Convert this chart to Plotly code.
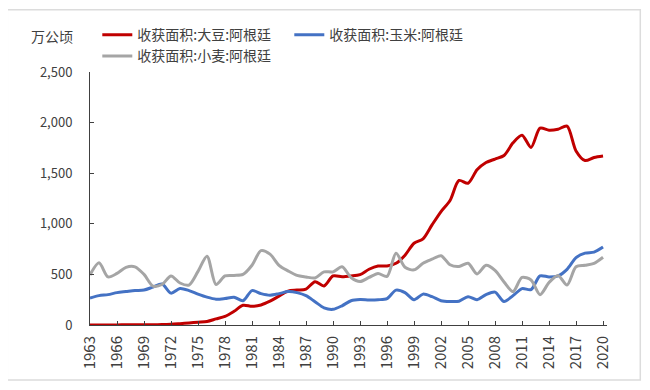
import plotly.graph_objects as go

years = list(range(1963, 2021))

soybean = [1, 1, 1, 1, 2, 2, 3, 3, 4, 7,
           13, 20, 28, 35, 60, 85, 135, 195, 185, 198,
           235, 285, 335, 345, 355, 428, 386, 485, 478, 485,
           498, 551, 583, 583, 610, 690, 808, 851, 989, 1121,
           1230, 1428, 1401, 1533, 1605, 1640, 1675, 1800, 1875, 1755,
           1945, 1925, 1935, 1965, 1720, 1625, 1655, 1670]

corn = [265, 290, 300, 320, 330, 340, 345, 375, 405, 315,
        360, 340, 305, 275, 255, 262, 275, 240, 340, 310,
        295, 310, 330, 320, 290, 230, 170, 155, 190, 240,
        252, 248, 250, 260, 345, 320, 250, 305, 280, 240,
        232, 235, 280, 250, 300, 325, 232, 290, 360, 350,
        485, 475, 485, 550, 665, 710, 720, 770]

wheat = [495, 615, 475, 510, 570, 575, 500, 385, 400, 485,
         415, 395, 530, 680, 400, 485, 490, 500, 590, 735,
         700, 590, 535, 490, 475, 465, 525, 525, 575, 470,
         430, 470, 510, 480, 710, 570, 545, 610, 650, 685,
         595, 578, 610, 505, 590, 540, 425, 330, 470, 445,
         300, 420, 490, 395, 575, 590, 610, 670]

series_names = ["收获面积:大豆:阿根廷", "收获面积:玉米:阿根廷", "收获面积:小麦:阿根廷"]
series_colors = ["#C00000", "#4472C4", "#A5A5A5"]
tick_years = list(range(1963, 2021, 3))
y_ticks = [0, 500, 1000, 1500, 2000, 2500]
unit_label = "万公顷"

# the page body has an 8px margin, so the figure is laid out in page coords minus 8
OFF = 8
W, H = 650 - OFF, 390 - OFF
L, R, T, B = 89.7 - OFF, 606.7 - OFF, 72.3 - OFF, 325 - OFF
FONT = "Noto Sans CJK SC"

fig = go.Figure()
for name, vals, col in zip(series_names, [soybean, corn, wheat], series_colors):
    fig.add_trace(go.Scatter(
        x=years, y=vals, name=name, mode="lines",
        line=dict(color=col, width=3, shape="spline", smoothing=0.8),
    ))

pw = R - L
ph = B - T
def px_x(p):  # page pixel -> paper fraction
    return (p - OFF - L) / pw
def px_y(p):
    return (B - (p - OFF)) / ph

fig.update_layout(
    width=W, height=H,
    margin=dict(l=L, r=W - R, t=T, b=H - B, pad=0, autoexpand=False),
    paper_bgcolor="white", plot_bgcolor="white",
    font=dict(family=FONT, size=13, color="#404040"),
    showlegend=True,
    legend=dict(
        orientation="h", x=px_x(97), y=px_y(19.5), xanchor="left", yanchor="top",
        entrywidth=147, entrywidthmode="pixels",
        font=dict(family=FONT, size=14, color="#404040"),
        bgcolor="rgba(0,0,0,0)", tracegroupgap=0, itemwidth=30,
    ),
    xaxis=dict(
        range=[1963, 2020.44], tickvals=tick_years, ticktext=[str(y) for y in tick_years],
        tickangle=-90, ticks="inside", ticklen=4, tickcolor="#404040",
        showline=True, linecolor="#404040", linewidth=1, showgrid=False, zeroline=False,
        tickfont=dict(family=FONT, size=15, color="#404040"), ticklabelstandoff=4,
    ),
    yaxis=dict(
        range=[0, 2500], tickvals=y_ticks, tickformat=",",
        ticks="inside", ticklen=4, tickcolor="#404040",
        showline=True, linecolor="#404040", linewidth=1, showgrid=False, zeroline=False,
        tickfont=dict(family=FONT, size=13, color="#404040"), ticklabelstandoff=14,
    ),
    annotations=[dict(
        text=unit_label, xref="paper", yref="paper", x=px_x(52), y=px_y(36),
        xanchor="center", yanchor="middle", showarrow=False,
        font=dict(family=FONT, size=14, color="#404040"),
    )],
    shapes=[dict(
        type="rect", xref="paper", yref="paper",
        x0=px_x(7), x1=px_x(640), y0=px_y(380), y1=px_y(10),
        line=dict(color="#dcdcdc", width=1.5), fillcolor="rgba(0,0,0,0)", layer="below",
    )],
)

fig.write_html("out.html")
